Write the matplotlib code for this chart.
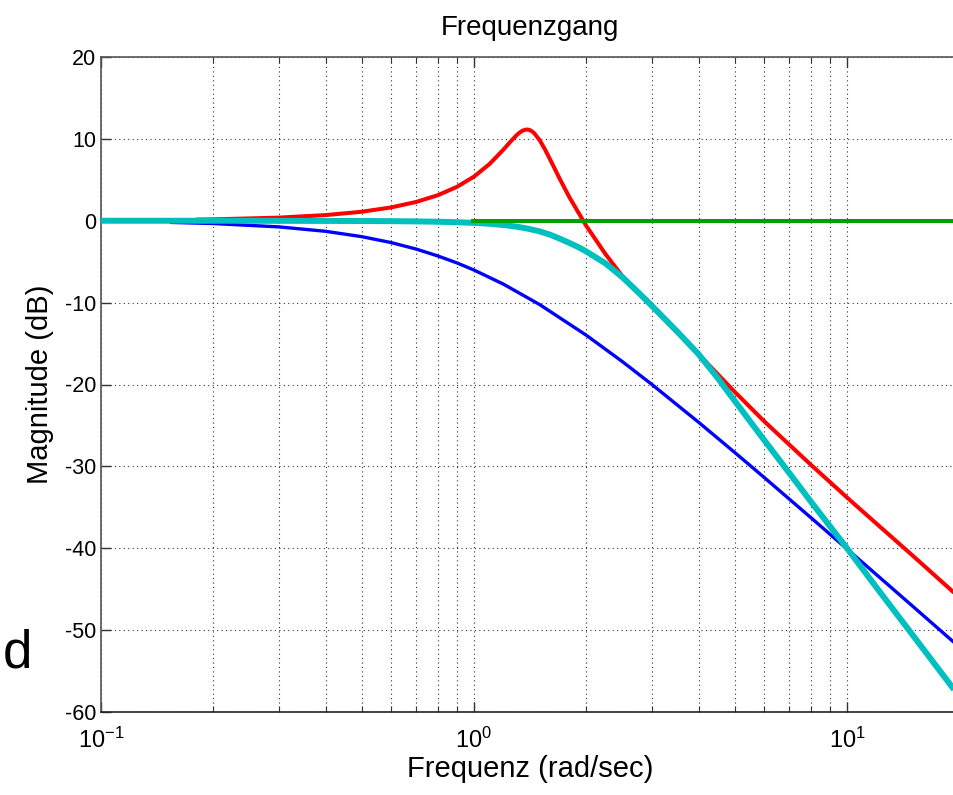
import matplotlib
matplotlib.use("Agg")
import matplotlib.pyplot as plt
from matplotlib.ticker import LogLocator, FixedLocator

plt.rcParams['font.family'] = ['Liberation Sans', 'DejaVu Sans']
plt.rcParams['mathtext.fontset'] = 'custom'
plt.rcParams['mathtext.rm'] = 'Liberation Sans'
plt.rcParams['mathtext.it'] = 'Liberation Sans'
plt.rcParams['axes.unicode_minus'] = False

# ---- data ----
red_w = [0.18, 0.2, 0.3, 0.4, 0.5, 0.6, 0.7, 0.8, 0.9, 1.0, 1.1, 1.2, 1.25, 1.3, 1.32,
         1.35, 1.38, 1.4, 1.42, 1.45, 1.5, 1.55, 1.6, 1.7, 1.8, 2.0, 2.25, 2.5, 3.0,
         3.5, 4.0, 5.0, 6.0, 8.0, 10.0, 12.0, 15.0, 20.0]
red_db = [0.14, 0.17, 0.38, 0.69, 1.10, 1.63, 2.30, 3.12, 4.14, 5.39, 6.92, 8.70, 9.62,
          10.44, 10.71, 11.01, 11.14, 11.12, 11.02, 10.70, 9.84, 8.71, 7.48, 5.07, 2.91,
          -0.63, -4.05, -6.78, -10.5, -13.6, -16.3, -20.9, -24.5, -29.8, -33.8, -37.0,
          -40.9, -46.0]

blue_w = [0.153, 0.2, 0.3, 0.4, 0.5, 0.6, 0.7, 0.8, 0.9, 1.0, 1.2, 1.5, 2.0, 2.5, 3.0,
          4.0, 5.0, 6.0, 8.0, 10.0, 12.0, 15.0, 20.0]
blue_db = [-0.20, -0.34, -0.75, -1.29, -1.94, -2.67, -3.46, -4.30, -5.15, -6.02, -7.75,
           -10.24, -13.98, -17.21, -20.0, -24.61, -28.30, -31.36, -36.26, -40.09, -43.23,
           -47.08, -52.06]

cyan_w = [0.1, 0.2, 0.3, 0.4, 0.5, 0.6, 0.7, 0.8, 0.9, 1.0, 1.1, 1.2, 1.3, 1.4, 1.5, 1.6,
          1.7, 1.8, 1.9, 2.0, 2.25, 2.5, 2.75, 3.0, 3.5, 4.0, 4.5, 5.0, 6.0, 7.0, 8.0,
          10.0, 12.0, 15.0, 20.0]
cyan_db = [0.0, 0.0, -0.01, -0.02, -0.03, -0.05, -0.08, -0.12, -0.18, -0.26, -0.37, -0.52,
           -0.72, -0.98, -1.3, -1.7, -2.2, -2.7, -3.2, -3.75, -5.2, -6.9, -8.7, -10.4,
           -13.5, -16.3, -19.2, -22.0, -26.8, -30.8, -34.3, -40.0, -44.8, -50.6, -58.1]

green_w = [0.98, 20.0]
green_db = [0.0, 0.0]

yticks = [-60, -50, -40, -30, -20, -10, 0, 10, 20]

W, H = 954, 795
fig = plt.figure(figsize=(W / 100, H / 100), dpi=100)
ax = fig.add_axes([101 / W, 1 - 712 / H, (2.30103 * 373) / W, (712 - 57) / H])

ax.plot(red_w, red_db, color='#ff0000', lw=2.9, solid_capstyle='butt', zorder=3)
ax.plot(blue_w, blue_db, color='#0000ff', lw=2.4, solid_capstyle='butt', zorder=4)
ax.plot(cyan_w, cyan_db, color='#00bfbf', lw=4.3, solid_capstyle='butt', zorder=5)
ax.plot(green_w, green_db, color='#00a000', lw=2.9, solid_capstyle='butt', zorder=6)

ax.set_xscale('log')
ax.set_xlim(0.1, 20)
ax.set_ylim(-60, 20)
ax.yaxis.set_major_locator(FixedLocator(yticks))
ax.xaxis.set_major_locator(LogLocator(base=10, numticks=10))
ax.xaxis.set_minor_locator(LogLocator(base=10, subs=range(2, 10), numticks=20))

ax.grid(True, which='major', axis='both', linestyle=(0, (1, 3)), color='#333333', lw=0.8)
ax.grid(True, which='minor', axis='x', linestyle=(0, (1, 3)), color='#333333', lw=0.8)

ax.tick_params(which='both', direction='in', top=True, right=False, labelsize=15.5,
               color='#333333')
ax.tick_params(which='major', length=7, width=1)
ax.tick_params(which='minor', length=4, width=0.8)
ax.tick_params(axis='x', pad=11, labelsize=17)
for side in ['left', 'bottom', 'top']:
    ax.spines[side].set_color('#555555')
    ax.spines[side].set_linewidth(1.2)
ax.spines['bottom'].set_color('#222222')
ax.spines['right'].set_visible(False)

ax.set_title('Frequenzgang', fontsize=20, pad=16)
ax.set_xlabel('Frequenz (rad/sec)', fontsize=21, labelpad=2)
ax.set_ylabel('Magnitude (dB)', fontsize=21, labelpad=8)

fig.text(17 / W, 1 - 668 / H, 'd', fontsize=38, ha='center', va='baseline')

fig.savefig('out.png', dpi=100)
